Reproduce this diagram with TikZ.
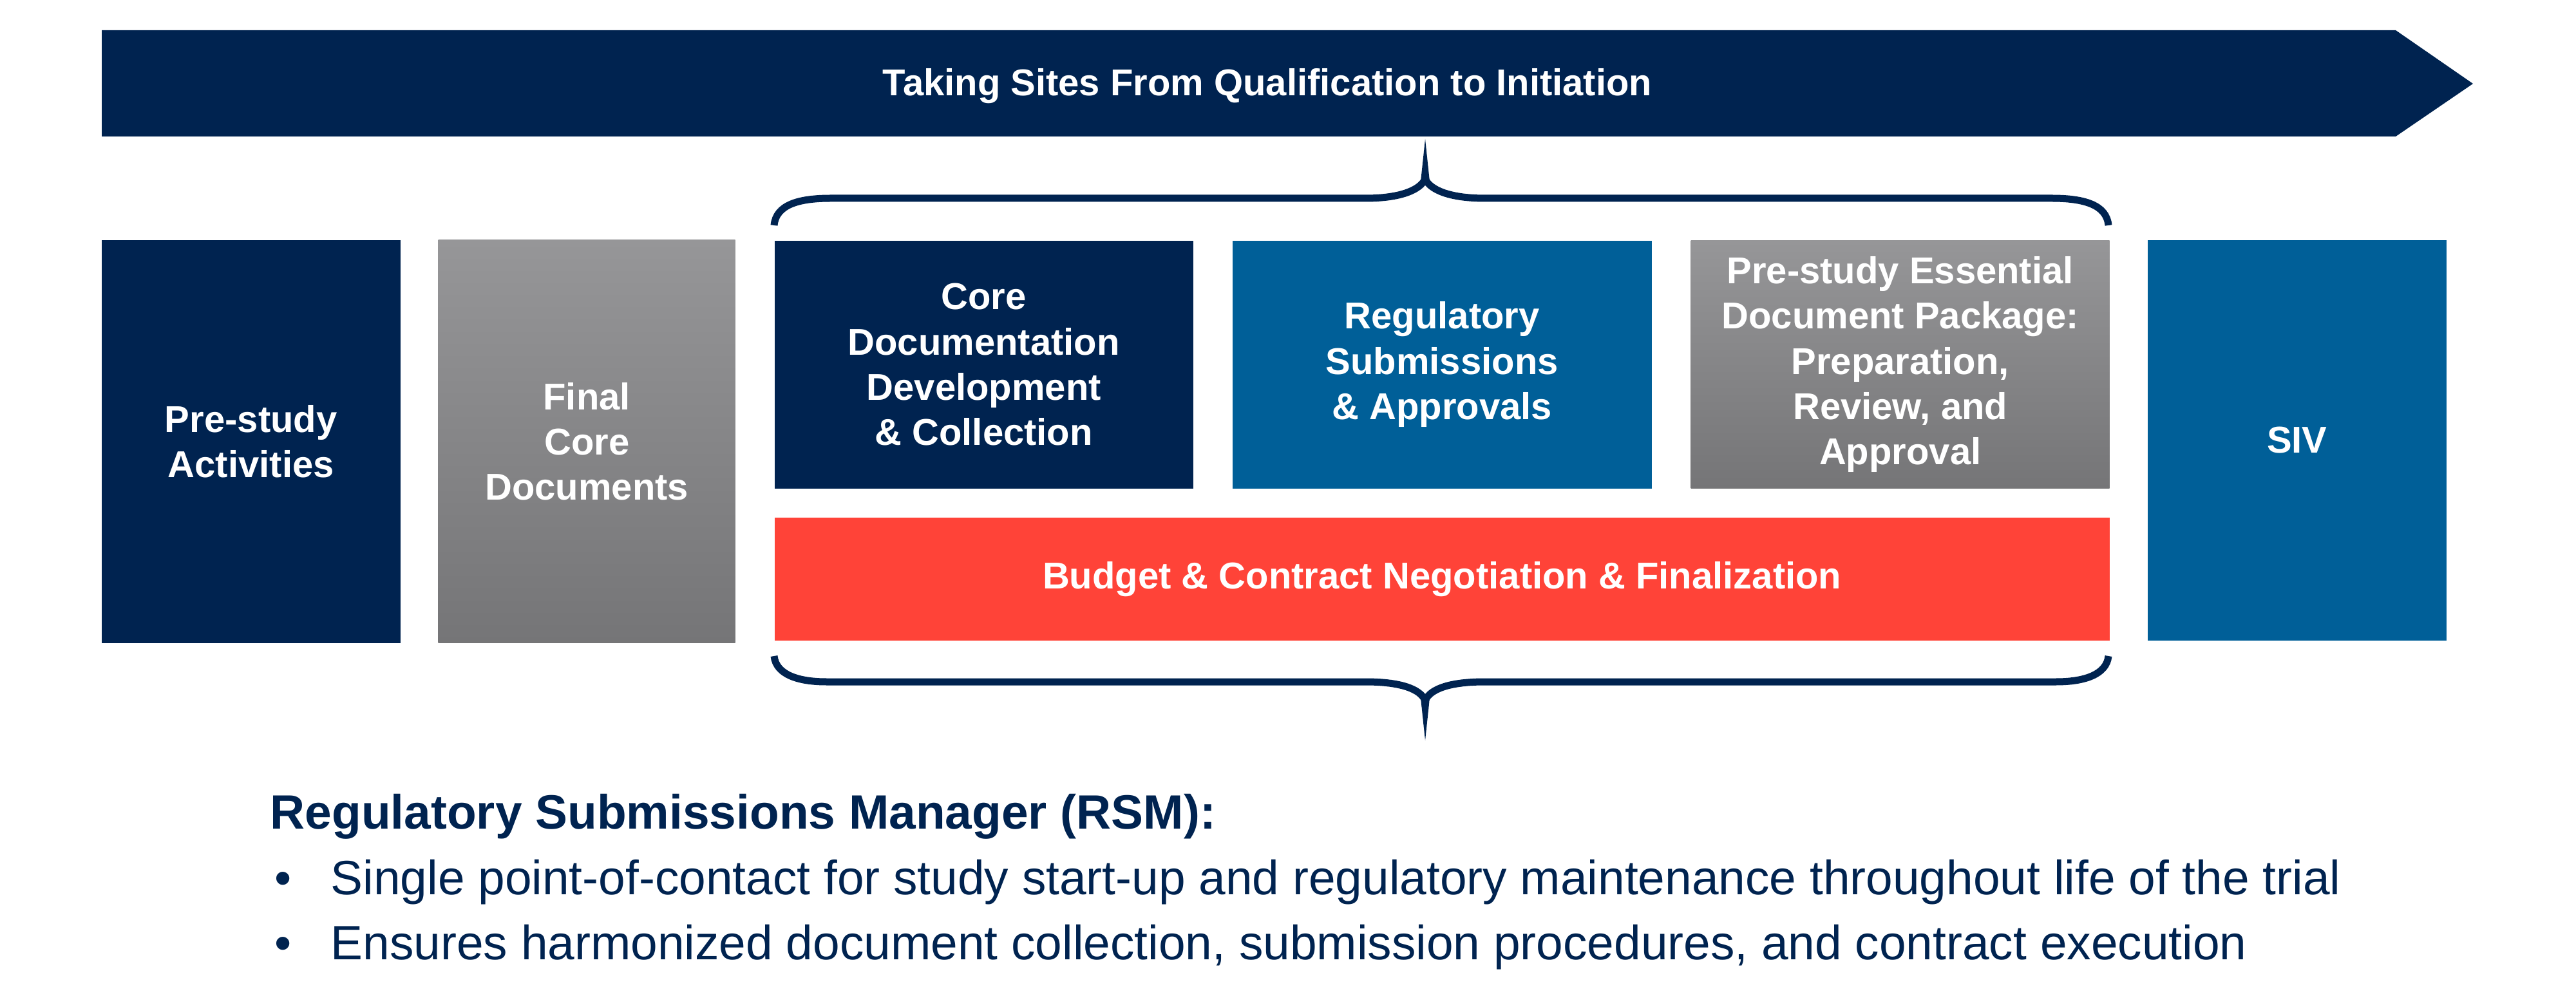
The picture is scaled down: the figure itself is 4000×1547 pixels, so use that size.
\documentclass[tikz,border=0pt]{standalone}
\usepackage{fontspec}
\setmainfont{Liberation Sans}
\usetikzlibrary{positioning,calc}

\definecolor{rsmnavy}{RGB}{0,35,80}
\definecolor{rsmblue}{RGB}{0,95,152}
\definecolor{rsmred}{RGB}{255,67,56}
\definecolor{graytop}{RGB}{150,150,152}
\definecolor{graybot}{RGB}{117,117,119}

\newcommand{\boxfont}{\fontsize{16.5}{20}\selectfont\bfseries}
\newcommand{\listfont}{\fontsize{21.3}{26}\selectfont}

\begin{document}
\begin{tikzpicture}[x=0.1mm,y=-0.1mm,
    box/.style={anchor=north west,inner sep=0pt,align=center,text=white,font=\boxfont},
    navybox/.style={box,fill=rsmnavy},
    bluebox/.style={box,fill=rsmblue},
    graybox/.style={box,top color=graytop,bottom color=graybot},
    brace/.style={draw=rsmnavy,line width=1.1mm},
    bullet/.style={anchor=base west,inner sep=0pt,text=rsmnavy,font=\listfont}]
    \useasboundingbox (0,0) rectangle (4000,1547);

    %%% Banner
    \fill[rsmnavy] (158,47) -- (3720,47) -- (3840,130) -- (3720,212) -- (158,212) -- cycle;
    \node[text=white,font=\boxfont] (banner) at (1968,134) {Taking Sites From Qualification to Initiation};

    %%% Steps
    \node[navybox,minimum width=46.4mm,minimum height=62.6mm] (pre) at (157,372) {Pre-study\\Activities};
    \node[graybox,minimum width=46.1mm,minimum height=62.6mm] (final) at (680,372) {Final\\Core\\Documents};
    \node[navybox,minimum width=65mm,minimum height=38.5mm] (core) at (1202,373) {Core\\Documentation\\Development\\\& Collection};
    \node[bluebox,minimum width=65.1mm,minimum height=38.5mm] (reg) at (1913,373) {Regulatory\\Submissions\\\& Approvals};
    \node[graybox,minimum width=65mm,minimum height=38.5mm] (ess) at (2625,373) {Pre-study Essential\\Document Package:\\Preparation,\\Review, and\\Approval};
    \node[box,fill=rsmred,minimum width=207.3mm,minimum height=19.1mm] (budget) at (1202,803) {Budget \& Contract Negotiation \& Finalization};
    \node[bluebox,minimum width=46.4mm,minimum height=62.2mm] (siv) at (3334,372) {SIV};

    %%% Braces
    \draw[brace] (1202,350) .. controls (1205,318) and (1240,308) .. (1290,308) -- (2120,308)
        .. controls (2175,308) and (2205,295) .. (2213,278)
        .. controls (2221,295) and (2251,308) .. (2306,308) -- (3186,308)
        .. controls (3236,308) and (3271,318) .. (3274,350);
    \fill[rsmnavy] (2206,282) -- (2213,216) -- (2220,282) -- cycle;
    \draw[brace] (1202,1019) .. controls (1205,1048) and (1240,1059) .. (1283,1059) -- (2120,1059)
        .. controls (2175,1059) and (2205,1070) .. (2213,1088)
        .. controls (2221,1070) and (2251,1059) .. (2306,1059) -- (3193,1059)
        .. controls (3236,1059) and (3271,1048) .. (3274,1019);
    \fill[rsmnavy] (2206,1084) -- (2213,1150) -- (2220,1084) -- cycle;

    %%% RSM
    \node[bullet,font=\listfont\bfseries] (rsm) at (419,1287) {Regulatory Submissions Manager (RSM):};
    \node[bullet] (dot1) at (426,1389) {\textbullet};
    \node[bullet] (item1) at (513,1389) {Single point-of-contact for study start-up and regulatory maintenance throughout life of the trial};
    \node[bullet] (dot2) at (426,1490) {\textbullet};
    \node[bullet] (item2) at (513,1490) {Ensures harmonized document collection, submission procedures, and contract execution};
\end{tikzpicture}
\end{document}
